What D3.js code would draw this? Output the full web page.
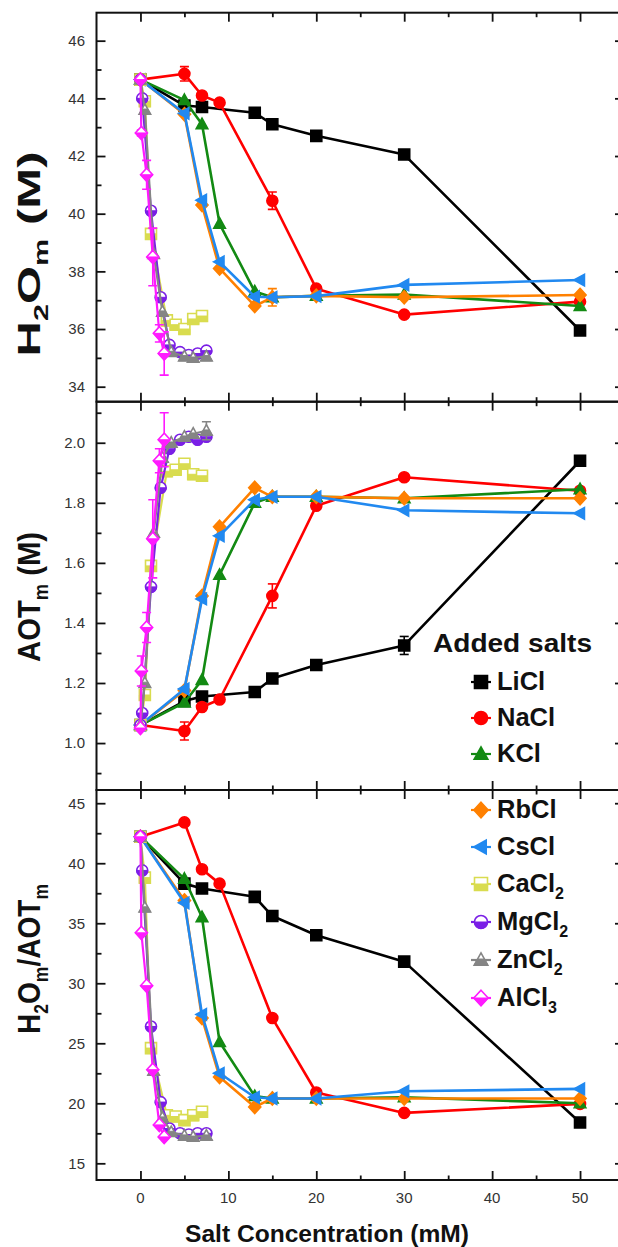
<!DOCTYPE html>
<html><head><meta charset="utf-8">
<script src="https://cdn.jsdelivr.net/npm/d3@7"></script>
<style>
html,body{margin:0;padding:0;background:#fff;}
svg{display:block;font-family:"Liberation Sans",Arial,sans-serif;}
</style></head>
<body>
<svg id="chart" width="618" height="1247"></svg>
<script>
// ---------------- DATA ----------------
const salts = ["LiCl","NaCl","KCl","RbCl","CsCl","CaCl2","MgCl2","ZnCl2","AlCl3"];
const saltLabels = [["LiCl",""],["NaCl",""],["KCl",""],["RbCl",""],["CsCl",""],["CaCl","2"],["MgCl","2"],["ZnCl","2"],["AlCl","3"]];
const colors = ["#000000","#ff0000","#138a13","#ff8000","#2189f0","#d9dc4f","#7a1fe6","#858585","#ff1aff"];
const symbols = ["square","circle","triangle","diamond","triangleLeft","squareHalf","circleHalf","triangleHalf","diamondHalf"];

// salt concentration (mM)
const concLiCl  = [0,5,7,13,15,20,30,50];
const concNaCl  = [0,5,7,9,15,20,30,50];
const concKCl   = [0,5,7,9,13,15,20,30,50];
const concRbCl  = [0,5,7,9,13,15,20,30,50];
const concCsCl  = [0,5,7,9,13,15,20,30,50];
const concCaCl2 = [0,0.5,1.2,3,4,5,6,7];
const concMgCl2 = [0,0.2,1.2,2.3,3.3,4.5,5.5,6.5,7.5];
const concZnCl2 = [0,0.5,1.5,2.5,3.5,5,6,7.5];
const concAlCl3 = [0,0.1,0.7,1.4,2.15,2.7];

// H2Om (M)
const h2oLiCl  = [44.65,43.75,43.7,43.5,43.1,42.7,42.05,35.95];
const h2oNaCl  = [44.65,44.85,44.1,43.85,40.45,37.4,36.5,36.95];
const h2oKCl   = [44.65,43.94,43.1,39.65,37.3,37.1,37.15,37.2,36.8];
const h2oRbCl  = [44.65,43.45,40.3,38.1,36.8,37.1,37.15,37.1,37.18];
const h2oCsCl  = [44.65,43.48,40.47,38.33,37.12,37.1,37.14,37.53,37.7];
const h2oCaCl2 = [44.65,43.9,39.3,36.3,36.15,36.0,36.35,36.45];
const h2oMgCl2 = [44.65,44.0,40.1,37.1,35.45,35.2,35.1,35.15,35.25];
const h2oZnCl2 = [44.65,43.6,38.6,36.6,35.2,35.05,35.0,35.05];
const h2oAlCl3 = [44.65,42.8,41.35,38.5,35.85,35.15];

// AOTm (M)
const aotLiCl  = [1.06,1.14,1.155,1.17,1.215,1.26,1.325,1.94];
const aotNaCl  = [1.06,1.04,1.12,1.145,1.49,1.79,1.885,1.84];
const aotKCl   = [1.06,1.135,1.21,1.56,1.80,1.82,1.82,1.815,1.845];
const aotRbCl  = [1.06,1.175,1.49,1.72,1.85,1.82,1.82,1.815,1.815];
const aotCsCl  = [1.06,1.18,1.48,1.69,1.81,1.82,1.82,1.775,1.765];
const aotCaCl2 = [1.06,1.16,1.59,1.905,1.91,1.93,1.895,1.89];
const aotMgCl2 = [1.06,1.1,1.52,1.85,1.98,2.01,2.02,2.01,2.02];
const aotZnCl2 = [1.06,1.2,1.7,1.95,2.0,2.02,2.03,2.04];
const aotAlCl3 = [1.05,1.24,1.385,1.68,1.94,2.01];

// H2Om/AOTm
const ratioLiCl  = [42.2,38.3,37.9,37.2,35.6,34.0,31.8,18.4];
const ratioNaCl  = [42.2,43.4,39.5,38.3,27.1,20.9,19.2,19.95];
const ratioKCl   = [42.2,38.7,35.5,25.1,20.6,20.4,20.4,20.5,20.0];
const ratioRbCl  = [42.2,36.9,27.1,22.2,19.7,20.4,20.4,20.4,20.4];
const ratioCsCl  = [42.2,36.7,27.4,22.5,20.5,20.4,20.4,21.0,21.2];
const ratioCaCl2 = [42.2,38.8,24.6,19.0,18.9,18.6,19.0,19.3];
const ratioMgCl2 = [42.2,39.4,26.4,20.1,17.9,17.5,17.4,17.5,17.5];
const ratioZnCl2 = [42.2,36.3,22.7,18.8,17.6,17.3,17.2,17.3];
const ratioAlCl3 = [42.2,34.2,29.8,22.8,18.2,17.2];

// error bars (same length as the series; 0 = none)
const errH2OLiCl  = [0,0,0,0.1,0.1,0.1,0.15,0.15];
const errH2ONaCl  = [0,0.25,0,0,0.3,0,0,0];
const errH2ORbCl  = [0,0,0,0,0,0.3,0,0,0];
const errH2OAlCl3 = [0,0.1,0.5,1.0,0.3,0.75];
const errAOTLiCl  = [0,0,0,0,0,0,0.03,0];
const errAOTNaCl  = [0,0.03,0,0,0.04,0,0,0];
const errAOTAlCl3 = [0,0.05,0.05,0.13,0.04,0.09];
const errAOTZnCl2 = [0,0,0,0,0,0,0,0.03];

const xTickValues = [0,10,20,30,40,50];
const xMinorValues = [5,15,25,35,45,55];
const h2oTicks = [34,36,38,40,42,44,46];
const aotTicks = [1.0,1.2,1.4,1.6,1.8,2.0];
const ratioTicks = [15,20,25,30,35,40,45];

// ---------------- BUILD ----------------
const concs  = [concLiCl,concNaCl,concKCl,concRbCl,concCsCl,concCaCl2,concMgCl2,concZnCl2,concAlCl3];
const h2o    = [h2oLiCl,h2oNaCl,h2oKCl,h2oRbCl,h2oCsCl,h2oCaCl2,h2oMgCl2,h2oZnCl2,h2oAlCl3];
const aot    = [aotLiCl,aotNaCl,aotKCl,aotRbCl,aotCsCl,aotCaCl2,aotMgCl2,aotZnCl2,aotAlCl3];
const ratio  = [ratioLiCl,ratioNaCl,ratioKCl,ratioRbCl,ratioCsCl,ratioCaCl2,ratioMgCl2,ratioZnCl2,ratioAlCl3];
const errH2O = [errH2OLiCl,errH2ONaCl,null,errH2ORbCl,null,null,null,null,errH2OAlCl3];
const errAOT = [errAOTLiCl,errAOTNaCl,null,null,null,null,null,errAOTZnCl2,errAOTAlCl3];
const errRatio = [null,null,null,null,null,null,null,null,null];

const svg = d3.select("#chart");
const L = 96.5, R = 624;
const x = d3.scaleLinear().domain([-5,55]).range([L,R]);

const panels = [
  {top:12.7, bottom:401.7, domain:[33.48,46.97], ticks:h2oTicks, minorStep:1, fmt:d3.format("d"), values:h2o, errs:errH2O},
  {top:401.7, bottom:790, domain:[0.8437,2.1367], ticks:aotTicks, minorStep:0.1, fmt:d3.format(".1f"), values:aot, errs:errAOT},
  {top:790, bottom:1180, domain:[13.61,46.1], ticks:ratioTicks, minorStep:2.5, fmt:d3.format("d"), values:ratio, errs:errRatio}
];

function symPath(type, h){
  switch(type){
    case "square": case "squareHalf": return `M${-h},${-h}H${h}V${h}H${-h}Z`;
    case "circle": case "circleHalf": return `M${-h},0A${h},${h} 0 1,0 ${h},0A${h},${h} 0 1,0 ${-h},0Z`;
    case "triangle": case "triangleHalf": return `M0,${-h*1.1}L${h*1.05},${h*0.8}L${-h*1.05},${h*0.8}Z`;
    case "diamond": case "diamondHalf": return `M0,${-h*1.2}L${h*1.1},0L0,${h*1.2}L${-h*1.1},0Z`;
    case "triangleLeft": return `M${-h*1.1},0L${h*0.8},${-h*1.05}L${h*0.8},${h*1.05}Z`;
  }
}
function halfPath(type, h){
  switch(type){
    case "squareHalf": return `M${-h},0H${h}V${h}H${-h}Z`;
    case "circleHalf": return `M${-h},0A${h},${h} 0 0,0 ${h},0Z`;
    case "triangleHalf": { const yy=-h*0.15, w=h*1.05*(yy+h*1.1)/(h*1.9); return `M${-w},${yy}L${w},${yy}L${h*1.05},${h*0.8}L${-h*1.05},${h*0.8}Z`; }
    case "diamondHalf": return `M${-h*1.1},0L${h*1.1},0L0,${h*1.2}Z`;
  }
  return null;
}
function drawSymbol(g, type, color, cx, cy, h){
  const half = type.endsWith("Half");
  g.append("path").attr("transform",`translate(${cx},${cy})`).attr("d",symPath(type,h))
    .attr("fill", half ? "#fff" : color).attr("stroke",color).attr("stroke-width",1.6);
  if(half){
    g.append("path").attr("transform",`translate(${cx},${cy})`).attr("d",halfPath(type,h))
      .attr("fill",color).attr("stroke",color).attr("stroke-width",1);
  }
}

panels.forEach((p,pi)=>{
  const y = d3.scaleLinear().domain(p.domain).range([p.bottom,p.top]);
  const g = svg.append("g");
  const cid = "clip"+pi;
  svg.append("clipPath").attr("id",cid).append("rect").attr("x",L).attr("y",p.top).attr("width",R-L).attr("height",p.bottom-p.top);
  const data = g.append("g").attr("clip-path",`url(#${cid})`);

  salts.forEach((s,si)=>{
    const pts = concs[si].map((c,i)=>({x:c,y:p.values[si][i],e:p.errs[si]?p.errs[si][i]:0}));
    const sg = data.append("g");
    const lw = si<5 ? 2.6 : 2.2;
    sg.append("path").datum(pts)
      .attr("d", d3.line().x(d=>x(d.x)).y(d=>y(d.y)))
      .attr("fill","none").attr("stroke",colors[si]).attr("stroke-width",lw).attr("stroke-linejoin","round");
    pts.filter(d=>d.e>0).forEach(d=>{
      const cx=x(d.x), y1=y(d.y+d.e), y2=y(d.y-d.e);
      sg.append("line").attr("x1",cx).attr("x2",cx).attr("y1",y1).attr("y2",y2).attr("stroke",colors[si]).attr("stroke-width",1.6);
      [y1,y2].forEach(yy=>sg.append("line").attr("x1",cx-4.5).attr("x2",cx+4.5).attr("y1",yy).attr("y2",yy).attr("stroke",colors[si]).attr("stroke-width",1.6));
    });
    pts.forEach(d=>drawSymbol(sg, symbols[si], colors[si], x(d.x), y(d.y), 5.5));
  });

  g.append("rect").attr("x",L).attr("y",p.top).attr("width",R-L).attr("height",p.bottom-p.top)
    .attr("fill","none").attr("stroke","#111").attr("stroke-width",2);

  const minor = d3.range(Math.ceil(p.domain[0]/p.minorStep)*p.minorStep, p.domain[1], p.minorStep)
      .filter(v=>!p.ticks.some(t=>Math.abs(t-v)<1e-6));
  const axL = d3.axisRight(y).tickValues(p.ticks).tickSize(9).tickFormat("");
  const axLm = d3.axisRight(y).tickValues(minor).tickSize(5).tickFormat("");
  const axR = d3.axisLeft(y).tickValues(p.ticks).tickSize(9).tickFormat("");
  const axRm = d3.axisLeft(y).tickValues(minor).tickSize(5).tickFormat("");
  [[axL,L],[axLm,L],[axR,R],[axRm,R]].forEach(([a,xx])=>{
    const ag = g.append("g").attr("transform",`translate(${xx},0)`).call(a);
    ag.select(".domain").remove();
    ag.selectAll("line").attr("stroke","#111").attr("stroke-width",1.8);
  });
  g.selectAll(null).data(p.ticks).enter().append("text")
    .attr("x",85).attr("y",d=>y(d)).attr("dy","0.36em").attr("text-anchor","end")
    .attr("font-size",15).attr("fill","#333").text(p.fmt);

  const axB = d3.axisTop(x).tickValues(xTickValues).tickSize(9).tickFormat("");
  const axBm = d3.axisTop(x).tickValues(xMinorValues).tickSize(4.5).tickFormat("");
  const axT = d3.axisBottom(x).tickValues(xTickValues).tickSize(9).tickFormat("");
  const axTm = d3.axisBottom(x).tickValues(xMinorValues).tickSize(4.5).tickFormat("");
  [[axB,p.bottom],[axBm,p.bottom],[axT,p.top],[axTm,p.top]].forEach(([a,yy])=>{
    const ag = g.append("g").attr("transform",`translate(0,${yy})`).call(a);
    ag.select(".domain").remove();
    ag.selectAll("line").attr("stroke","#111").attr("stroke-width",1.8);
  });
});

svg.selectAll(null).data(xTickValues).enter().append("text")
  .attr("x",d=>x(d)).attr("y",1203).attr("text-anchor","middle")
  .attr("font-size",15).attr("fill","#333").text(d=>d);

svg.append("text").attr("x",327).attr("y",1242).attr("text-anchor","middle")
  .attr("font-size",23).attr("font-weight","bold").attr("fill","#111")
  .attr("textLength",284).attr("lengthAdjust","spacingAndGlyphs")
  .text("Salt Concentration (mM)");

// y axis titles: parts are [text, shift] where shift 1 = subscript start, -1 = back to baseline
function yTitle(cx, cy, len, parts){
  const t = svg.append("text").attr("transform",`translate(${cx},${cy}) rotate(-90)`)
    .attr("text-anchor","middle").attr("font-size",32).attr("font-weight","bold").attr("fill","#111")
    .attr("textLength",len).attr("lengthAdjust","spacingAndGlyphs");
  parts.forEach(([txt,sub])=>{
    t.append("tspan").text(txt).attr("font-size",sub===1?20:32).attr("dy",sub===1?8:(sub===-1?-8:0));
  });
}
yTitle(40,254,205,[["H",0],["2",1],["O",-1],["m",1],[" (M)",-1]]);
yTitle(40,597,130,[["AOT",0],["m",1],[" (M)",-1]]);
yTitle(40,959,150,[["H",0],["2",1],["O",-1],["m",1],["/AOT",-1],["m",1]]);

// legend
svg.append("text").attr("x",433).attr("y",652).attr("font-size",25.5).attr("font-weight","bold")
  .attr("fill","#111").attr("textLength",159).attr("lengthAdjust","spacingAndGlyphs").text("Added salts");
const legY = [690,726,762,818,855,892,930,968,1006];
salts.forEach((s,i)=>{
  const lg = svg.append("g");
  const yy = legY[i]-8;
  lg.append("line").attr("x1",471).attr("x2",491).attr("y1",yy).attr("y2",yy).attr("stroke",colors[i]).attr("stroke-width",2.2);
  drawSymbol(lg, symbols[i], colors[i], 481, yy, 6.5);
  const t = lg.append("text").attr("x",497).attr("y",legY[i]).attr("font-size",25.5).attr("font-weight","bold").attr("fill","#111");
  t.append("tspan").text(saltLabels[i][0]);
  if(saltLabels[i][1]) t.append("tspan").attr("font-size",16).attr("dy",7).text(saltLabels[i][1]);
});
</script>
</body></html>
